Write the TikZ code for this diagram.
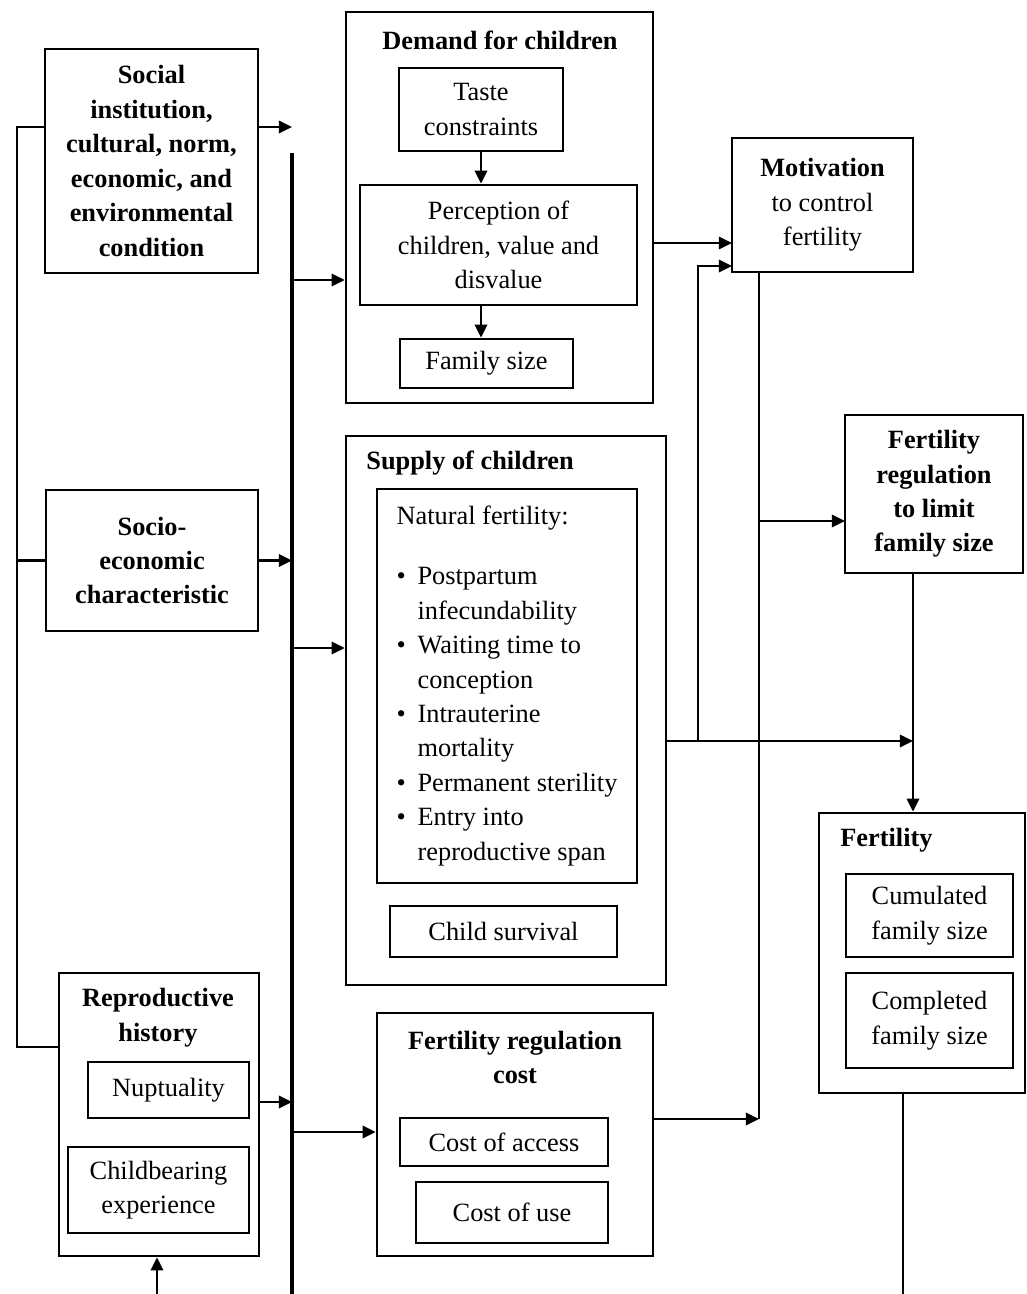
\documentclass[tikz,border=0pt]{standalone}
\usepackage{fontspec}
\setmainfont{Liberation Serif}
\usepackage{tikz}
\usetikzlibrary{arrows.meta}
\newcommand{\figfont}{\fontsize{15}{19.6}\selectfont}
\newcommand{\bulitem}{\makebox[0.42cm][l]{\textbullet}}
\newcommand{\bulcont}{\hspace*{0.42cm}}

\begin{document}
\begin{tikzpicture}[x=0.02cm, y=-0.02cm,
  box/.style={rectangle, draw=black, line width=1.5pt, inner sep=2pt,
              align=center, font=\figfont},
  hbox/.style={box, font=\figfont\bfseries},
  ttl/.style={inner sep=0pt, align=center, font=\figfont\bfseries},
  arr/.style={-{Triangle[length=7.5pt, width=7pt]}, line width=1.6pt},
  ln/.style={line width=1.6pt},
  bus/.style={line width=2pt}
]
\useasboundingbox (0,0) rectangle (1027,1294);

\node[hbox, minimum width=4.26cm, minimum height=4.48cm] (social) at (151.5,161)
  {Social\\institution,\\cultural, norm,\\economic, and\\environmental\\condition};
\node[hbox, minimum width=4.24cm, minimum height=2.82cm] (socio) at (152,560.5)
  {Socio-\\economic\\characteristic};
\node[box, minimum width=4.0cm, minimum height=5.66cm] (repro) at (159,1114.5) {};
\node[ttl] (reproT) at (158,1017.5) {Reproductive\\history};
\node[box, minimum width=3.22cm, minimum height=1.12cm] (nupt) at (168.5,1090) {Nuptuality};
\node[box, minimum width=3.62cm, minimum height=1.72cm] (childbear) at (158.5,1190)
  {Childbearing\\experience};

\node[box, minimum width=6.14cm, minimum height=7.82cm] (demand) at (499.5,207.5) {};
\node[ttl] (demandT) at (500,40) {Demand for children};
\node[box, minimum width=3.28cm, minimum height=1.66cm] (taste) at (481,109.5) {Taste\\constraints};
\node[box, minimum width=5.54cm, minimum height=2.4cm] (percep) at (498.5,245)
  {Perception of\\children, value and\\disvalue};
\node[box, minimum width=3.46cm, minimum height=0.98cm] (famsize) at (486.5,363.5) {Family size};

\node[box, minimum width=6.4cm, minimum height=10.98cm] (supply) at (506,710.5) {};
\node[ttl, anchor=west] (supplyT) at (366,463) {Supply of children};
\node[box, align=left, minimum width=5.2cm, minimum height=7.88cm] (natural) at (507,686)
  {Natural fertility:\\[0.51cm]
   \bulitem Postpartum\\
   \bulcont infecundability\\
   \bulitem Waiting time to\\
   \bulcont conception\\
   \bulitem Intrauterine\\
   \bulcont mortality\\
   \bulitem Permanent sterility\\
   \bulitem Entry into\\
   \bulcont reproductive span};
\node[box, minimum width=4.54cm, minimum height=1.02cm] (childsurv) at (503.5,931.5) {Child survival};

\node[box, minimum width=5.52cm, minimum height=4.86cm] (cost) at (515,1134.5) {};
\node[ttl] (costT) at (515,1057.5) {Fertility regulation\\cost};
\node[box, minimum width=4.16cm, minimum height=0.96cm] (access) at (504,1142) {Cost of access};
\node[box, minimum width=3.84cm, minimum height=1.22cm] (use) at (512,1212.5) {Cost of use};

\node[box, minimum width=3.62cm, minimum height=2.68cm] (motiv) at (822.5,205)
  {\bfseries Motivation\\to control\\fertility};
\node[hbox, minimum width=3.56cm, minimum height=3.16cm] (fertreg) at (934,494)
  {Fertility\\regulation\\to limit\\family size};
\node[box, minimum width=4.12cm, minimum height=5.6cm] (fert) at (922,953) {};
\node[ttl, anchor=west] (fertT) at (840,840) {Fertility};
\node[box, minimum width=3.34cm, minimum height=1.66cm] (cumul) at (929.5,915.5) {Cumulated\\family size};
\node[box, minimum width=3.34cm, minimum height=1.9cm] (compl) at (929.5,1020.5) {Completed\\family size};

\coordinate (bustop) at (292,153);
\coordinate (busbot) at (292,1294);
\draw[bus] (bustop) -- (busbot);

\coordinate (lt) at (17,127);
\coordinate (lb) at (17,1047);
\draw[ln] (social.west |- lt) -- (lt) -- (lb) -- (repro.west |- lb);
\draw[ln] (socio.west -| lt) -- (socio.west);

\draw[arr] (social.east |- lt) -- (bustop |- lt);
\draw[arr] (socio.east) -- (socio.east -| bustop);
\coordinate (rpo) at (292,1102);
\draw[arr] (repro.east |- rpo) -- (rpo);

\coordinate (b1) at (292,280);
\coordinate (b2) at (292,648);
\coordinate (b3) at (292,1132);
\draw[arr] (b1) -- (b1 -| demand.west);
\draw[arr] (b2) -- (b2 -| supply.west);
\draw[arr] (b3) -- (b3 -| cost.west);

\draw[arr] (taste.south) -- (taste.south |- percep.north);
\draw[arr] (taste.south |- percep.south) -- (taste.south |- famsize.north);

\coordinate (mi1) at (732,243);
\coordinate (mi2) at (732,266);
\coordinate (sj) at (698,741);
\coordinate (fj) at (913,741);
\coordinate (mv) at (759,1119);
\coordinate (fr) at (845,521);
\draw[arr] (demand.east |- mi1) -- (mi1);
\draw[arr] (supply.east |- sj) -- (fj);
\draw[arr] (sj) |- (mi2);
\draw[ln] (motiv.south -| mv) -- (mv);
\draw[arr] (mv |- fr) -- (fr);
\draw[arr] (cost.east |- mv) -- (mv);
\draw[arr] (fertreg.south -| fj) -- (fert.north -| fj);

\coordinate (fb) at (903,1294);
\coordinate (rb) at (157,1294);
\draw[ln] (fert.south -| fb) -- (fb);
\draw[arr] (rb) -- (repro.south -| rb);

\end{tikzpicture}
\end{document}
